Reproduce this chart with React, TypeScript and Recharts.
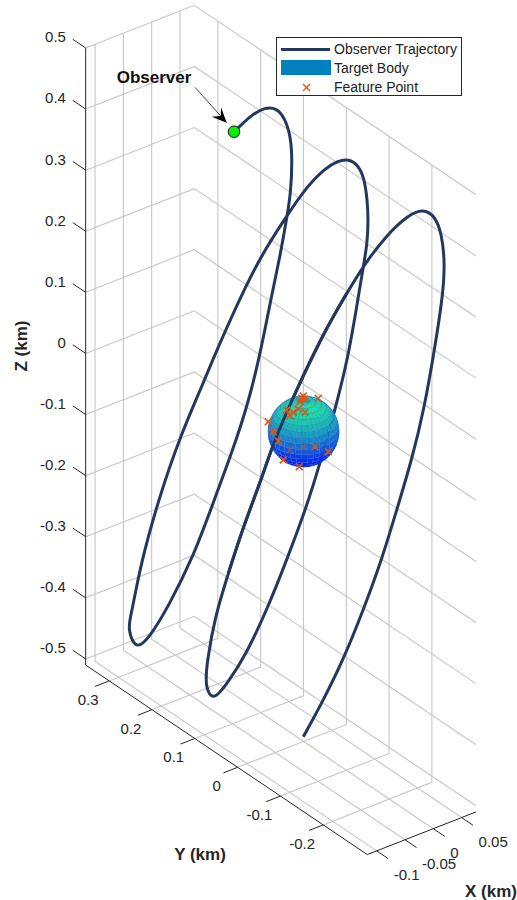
import { ComposedChart, Legend, Line, Scatter, XAxis, YAxis } from "recharts";

// axis limits and ticks (km)
const xLimits = [-0.1166, 0.0754];
const yLimits = [-0.303, 0.355];
const zLimits = [-0.51, 0.5];
const xTicks = [-0.1, -0.05, 0, 0.05];
const yTicks = [0.3, 0.2, 0.1, 0, -0.1, -0.2];
const zTicks = [0.5, 0.4, 0.3, 0.2, 0.1, 0, -0.1, -0.2, -0.3, -0.4, -0.5];

// trajectory. depth along the view can't be recovered, so x stays 0
const trajectoryY = [
  0.1626, 0.1502, 0.1213, 0.0902, 0.0629, 0.0435, 0.0301, 0.0264, 0.0301, 0.0381, 0.0551, 0.0785, 0.0995,
  0.1292, 0.168, 0.2147, 0.2577, 0.3161, 0.3589, 0.392, 0.412, 0.4016, 0.3822, 0.3395, 0.2888, 0.2343,
  0.203, 0.1329, 0.0862, 0.0381, -0.0072, -0.05, -0.0811, -0.1044, -0.1278, -0.1418, -0.1488, -0.1512,
  -0.1488, -0.1395, -0.1241, -0.1044, -0.0734, -0.0383, -0.0072, 0.0395, 0.0825, 0.1369, 0.1759, 0.211,
  0.231, 0.225, 0.207, 0.1759, 0.1409, 0.1019, 0.0708, 0.0241, -0.046, -0.1007, -0.1435, -0.1942, -0.2446,
  -0.2797, -0.307, -0.3227, -0.3304, -0.325, -0.307, -0.2813, -0.2526, -0.2175, -0.1825, -0.1395, -0.0928,
  -0.0383, 0.0007,
];
const trajectoryZ = [
  0.4112, 0.4253, 0.4581, 0.4855, 0.497, 0.4893, 0.4655, 0.4291, 0.3729, 0.3336, 0.2573, 0.17, 0.0837,
  -0.0175, -0.1176, -0.2271, -0.3292, -0.4385, -0.5078, -0.547, -0.5189, -0.4896, -0.4042, -0.2749, -0.1474,
  -0.0339, 0.0349, 0.1771, 0.259, 0.3336, 0.4013, 0.4516, 0.4786, 0.4924, 0.4936, 0.4785, 0.4463, 0.4146,
  0.3754, 0.3327, 0.26, 0.1689, 0.067, -0.0368, -0.1224, -0.2317, -0.3284, -0.4359, -0.4952, -0.545,
  -0.5298, -0.4828, -0.4035, -0.3178, -0.225, -0.1356, -0.055, 0.0428, 0.1796, 0.2709, 0.3401, 0.4103, 0.4669,
  0.4935, 0.4945, 0.4737, 0.4282, 0.371, 0.2807, 0.165, 0.0696, -0.0287, -0.1271, -0.2292, -0.333, -0.4351,
  -0.5026,
];

const featureY = [
  0.0007, -0.0033, 0.0084, -0.0343, 0.0044, 0.0124, 0.0241, -0.0033, 0.0395, 0.0318, 0.0825, 0.0708, 0.0591,
  -0.0266, -0.0577, 0.0474, 0.01,
];
const featureZ = [
  0.055, 0.0519, 0.042, 0.0677, 0.0495, 0.0282, 0.0173, 0.0302, 0.0138, 0.0081, -0.0256, -0.0365, -0.0462,
  -0.0151, -0.0086, -0.0718, -0.0651,
];
// the two markers that show faintly through the body
const faintFeatureY = [0.0318, 0.0007];
const faintFeatureZ = [-0.048, -0.028];

const bodyRadius = 0.05;
const bodyCenterZ = -0.0028;
const bodyLat = [-90, -80, -70, -60, -50, -40, -30, -20, -10, 0, 10, 20, 30, 40, 50, 60, 70, 80, 90];
const bodyLon = [
  -180, -170, -160, -150, -140, -130, -120, -110, -100, -90, -80, -70, -60, -50, -40, -30, -20, -10, 0, 10, 20, 30,
  40, 50, 60, 70, 80, 90, 100, 110, 120, 130, 140, 150, 160, 170, 180,
];

const TEXT = "#262626";
const GRID = "#c6c6c6";
const NAVY = "#22385f";
const ORANGE = "#dd5518";
const FONT = "'Liberation Sans', Arial, sans-serif";
const viewDir = [-0.518, -0.685, 0.511];

function project(x: number, y: number, z: number) {
  return { sx: 303.6 + 566 * x - 428 * y, sy: 429.8 - 222 * x - 288 * y - 611 * z };
}

const [xMin, xMax] = xLimits;
const [yMin, yMax] = yLimits;
const [zMin, zMax] = zLimits;

const gridLines = [
  ...xTicks.map((x) => [project(x, yMin, zMin), project(x, yMax, zMin), project(x, yMax, zMax)]),
  ...yTicks.map((y) => [project(xMin, y, zMin), project(xMax, y, zMin), project(xMax, y, zMax)]),
  ...zTicks.map((z) => [project(xMin, yMax, z), project(xMax, yMax, z), project(xMax, yMin, z)]),
];

const axisLines = [
  [project(xMin, yMax, zMax), project(xMin, yMax, zMin), project(xMin, yMin, zMin), project(xMax, yMin, zMin)],
  ...zTicks.map((z) => [project(xMin, yMax, z), project(xMin, yMax + 0.03, z)]),
  ...yTicks.map((y) => [project(xMin, y, zMin), project(xMin - 0.025, y, zMin)]),
  ...xTicks.map((x) => [project(x, yMin, zMin), project(x, yMin - 0.027, zMin)]),
];

const trajectory = trajectoryY.map((y, i) => project(0, y, trajectoryZ[i]));
// ascending pass that runs in front of the body
const trajectoryFront = trajectory.slice(53, 60);

const features = featureY.map((y, i) => project(0, y, featureZ[i]));
const faintFeatures = faintFeatureY.map((y, i) => project(0, y, faintFeatureZ[i]));
const observer = [trajectory[0]];

const zLabels = zTicks.map((z) => ({ ...project(xMin, yMax, z), label: String(z) }));
const yLabels = yTicks.map((y) => ({ ...project(xMin, y, zMin), label: String(y) }));
const xLabels = xTicks.map((x) => ({ ...project(x, yMin, zMin), label: String(x) }));

// winter colormap, pulled toward blue and slightly lightened like the translucent surface
function winter(height: number) {
  const t = Math.pow((height + 1) / 2, 1.6);
  const light = 0.1 * Math.min(1, t * 2.5);
  const mix = (v: number) => Math.round(v + (255 - v) * light);
  return `rgb(${mix(0)},${mix(255 * t)},${mix(255 * (1 - 0.5 * t))})`;
}

function buildBodyFaces() {
  const rad = Math.PI / 180;
  const vertex = (lat: number, lon: number) =>
    project(
      bodyRadius * Math.cos(lat * rad) * Math.cos(lon * rad),
      bodyRadius * Math.cos(lat * rad) * Math.sin(lon * rad),
      bodyCenterZ + bodyRadius * Math.sin(lat * rad),
    );
  const faces: any[] = [];
  for (let i = 0; i < bodyLat.length - 1; i++) {
    for (let j = 0; j < bodyLon.length - 1; j++) {
      const lat = (bodyLat[i] + bodyLat[i + 1]) / 2;
      const lon = (bodyLon[j] + bodyLon[j + 1]) / 2;
      const nx = Math.cos(lat * rad) * Math.cos(lon * rad);
      const ny = Math.cos(lat * rad) * Math.sin(lon * rad);
      const nz = Math.sin(lat * rad);
      const facing = nx * viewDir[0] + ny * viewDir[1] + nz * viewDir[2];
      if (facing < -0.12) continue;
      const corners = [
        vertex(bodyLat[i], bodyLon[j]),
        vertex(bodyLat[i], bodyLon[j + 1]),
        vertex(bodyLat[i + 1], bodyLon[j + 1]),
        vertex(bodyLat[i + 1], bodyLon[j]),
      ];
      const c = vertex(lat, lon);
      faces.push({
        ...c,
        facing,
        fill: winter(nz),
        offsets: corners.map((p) => [p.sx - c.sx, p.sy - c.sy]),
      });
    }
  }
  return faces.sort((a, b) => a.facing - b.facing);
}
const bodyFaces = buildBodyFaces();

function FaceShape({ cx, cy, payload }: any) {
  const pts = payload.offsets.map((o: number[]) => `${cx + o[0]},${cy + o[1]}`).join(" ");
  return <polygon points={pts} fill={payload.fill} stroke="#0a58d0" strokeOpacity={0.4} strokeWidth={0.6} />;
}

function CrossShape({ cx, cy, opacity = 1 }: any) {
  const r = 3.4;
  return (
    <path
      d={`M${cx - r},${cy - r}L${cx + r},${cy + r}M${cx - r},${cy + r}L${cx + r},${cy - r}`}
      stroke={ORANGE}
      strokeWidth={1.6}
      opacity={opacity}
      fill="none"
    />
  );
}

function ObserverShape({ cx, cy }: any) {
  const tip = [cx - 7.3, cy - 9];
  return (
    <g>
      <line x1={cx - 39} y1={cy - 44.4} x2={tip[0]} y2={tip[1]} stroke="#222" strokeWidth={0.8} />
      <polygon
        points={`${tip[0]},${tip[1]} ${cx - 22.3},${cy - 15} ${cx - 13.3},${cy - 15.7} ${cx - 13},${cy - 24.4}`}
        fill="#000"
      />
      <text x={cx - 117.3} y={cy - 48.7} fontFamily={FONT} fontSize={17} fontWeight="bold" fill="#111">
        Observer
      </text>
      <circle cx={cx} cy={cy} r={5.8} fill="#00f000" stroke="#111" strokeWidth={1} />
    </g>
  );
}

const tickLabel = (dx: number, dy: number, anchor: "start" | "middle" | "end") =>
  function TickLabel({ cx, cy, payload }: any) {
    return (
      <text x={cx + dx} y={cy + dy} textAnchor={anchor} fontFamily={FONT} fontSize={15} fill={TEXT}>
        {payload.label}
      </text>
    );
  };

function LegendBox() {
  const row = { position: "absolute" as const, left: 57, fontSize: 14, lineHeight: "18px", color: "#222", whiteSpace: "nowrap" as const };
  return (
    <div
      style={{
        position: "relative",
        width: 186,
        height: 59,
        boxSizing: "border-box",
        border: `1px solid ${TEXT}`,
        background: "#fff",
        fontFamily: FONT,
      }}
    >
      <div style={{ position: "absolute", left: 4, top: 10, width: 49, height: 3, background: NAVY }} />
      <div style={{ position: "absolute", left: 3.5, top: 22, width: 50, height: 15, background: "#0080bf" }} />
      <svg style={{ position: "absolute", left: 25, top: 45 }} width={9} height={9}>
        <path d="M1,1L8,8M1,8L8,1" stroke={ORANGE} strokeWidth={1.4} />
      </svg>
      <div style={{ ...row, top: 2 }}>Observer Trajectory</div>
      <div style={{ ...row, top: 21 }}>Target Body</div>
      <div style={{ ...row, top: 40 }}>Feature Point</div>
    </div>
  );
}

function AxisTitle({ cx, cy, payload }: any) {
  return (
    <text
      x={cx}
      y={cy}
      textAnchor="middle"
      fontFamily={FONT}
      fontSize={17}
      fontWeight="bold"
      fill={TEXT}
      transform={payload.rotate ? `rotate(-90 ${cx} ${cy})` : undefined}
    >
      {payload.label}
    </text>
  );
}

// titles sit in page space, beside the projected axes
const axisTitles = [
  { sx: 27, sy: 346, label: "Z (km)", rotate: true },
  { sx: 200, sy: 860, label: "Y (km)", rotate: false },
  { sx: 491, sy: 897, label: "X (km)", rotate: false },
];

const lineBase = { xAxisId: 0, yAxisId: 0, dataKey: "sy", dot: false, activeDot: false, isAnimationActive: false, legendType: "none" as const };

export default function App() {
  return (
    <div style={{ position: "absolute", left: 0, top: 0, width: 517, height: 900, background: "#fff" }}>
      <ComposedChart width={517} height={900} margin={{ top: 0, right: 0, bottom: 0, left: 0 }}>
        <XAxis type="number" dataKey="sx" domain={[0, 517]} hide />
        <YAxis type="number" dataKey="sy" domain={[0, 900]} reversed hide />
        <Legend
          content={LegendBox}
          layout="horizontal"
          verticalAlign="middle"
          align="center"
          wrapperStyle={{ position: "absolute", left: 276, top: 37, width: 186, height: 59, zIndex: 5 }}
        />
        {gridLines.map((pts, i) => (
          <Line key={`grid${i}`} {...lineBase} data={pts} stroke={GRID} strokeWidth={1.1} type="linear" zIndex={400} />
        ))}
        {axisLines.map((pts, i) => (
          <Line key={`axis${i}`} {...lineBase} data={pts} stroke={TEXT} strokeWidth={1} type="linear" zIndex={410} />
        ))}
        <Line {...lineBase} data={trajectory} stroke={NAVY} strokeWidth={3} type="basis" zIndex={420} />
        <Scatter data={bodyFaces} shape={FaceShape} isAnimationActive={false} legendType="none" zIndex={500} />
        <Line {...lineBase} data={trajectoryFront} stroke={NAVY} strokeWidth={3} type="basis" zIndex={510} />
        <Scatter data={features} shape={CrossShape} isAnimationActive={false} legendType="none" zIndex={520} />
        <Scatter
          data={faintFeatures}
          shape={(p: any) => <CrossShape {...p} opacity={0.45} />}
          isAnimationActive={false}
          legendType="none"
          zIndex={520}
        />
        <Scatter data={observer} shape={ObserverShape} isAnimationActive={false} legendType="none" zIndex={530} />
        <Scatter data={zLabels} shape={tickLabel(-19.7, -5.6, "end")} isAnimationActive={false} legendType="none" zIndex={540} />
        <Scatter data={yLabels} shape={tickLabel(-21, 24, "middle")} isAnimationActive={false} legendType="none" zIndex={540} />
        <Scatter data={xLabels} shape={tickLabel(17, 29, "start")} isAnimationActive={false} legendType="none" zIndex={540} />
        <Scatter data={axisTitles} shape={AxisTitle} isAnimationActive={false} legendType="none" zIndex={540} />
      </ComposedChart>
    </div>
  );
}
